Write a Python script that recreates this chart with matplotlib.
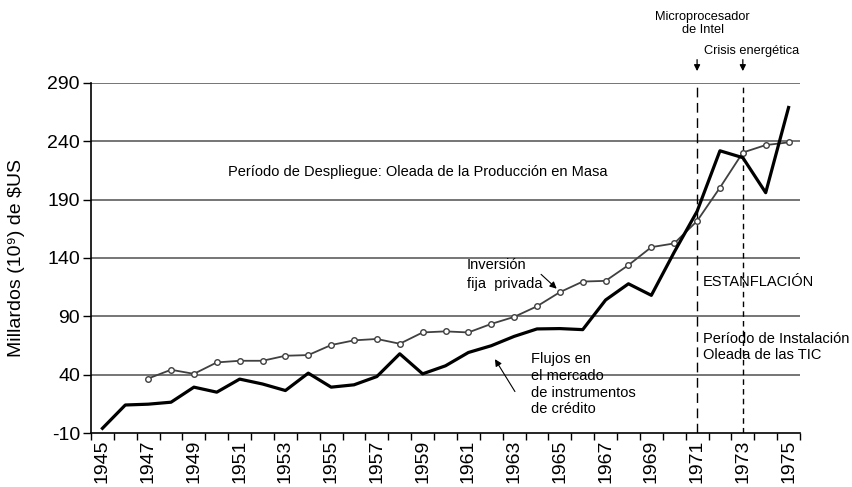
import matplotlib
matplotlib.use("Agg")
import matplotlib.pyplot as plt
import numpy as np

# datos
years = list(range(1945, 1976))
flujos = [-6, 14, 14.7, 16.4, 29.3, 25, 36.2, 32, 26.4, 41.3, 29.3, 31.3, 38.4, 57.9, 40.7,
          47.6, 59, 64.8, 72.8, 79.2, 79.5, 78.6, 104, 117.9, 108, 145, 180, 231.9, 226, 196, 269]
inv_years = list(range(1947, 1976))
inversion = [36.7, 44.2, 40.7, 50.5, 51.9, 51.9, 56.2, 56.8, 65.4, 69.4, 70.6, 66.5, 76.2,
             77.1, 76.2, 83.5, 89.5, 98.6, 110.7, 119.8, 120.4, 133.9, 149.3, 152.5, 171.7,
             200.3, 230.4, 236.8, 239.1]
yticks = [-10, 40, 90, 140, 190, 240, 290]
label_years = list(range(1945, 1976, 2))

plt.rcParams["font.family"] = ["Liberation Sans", "DejaVu Sans"]
plt.rcParams["axes.unicode_minus"] = False

fig = plt.figure(figsize=(8.53, 4.87), dpi=100)
ax = fig.add_axes([91 / 853, (487 - 433) / 487, (800 - 91) / 853, (433 - 83) / 487])

# lineas de cuadricula
for y in yticks[1:]:
    ax.axhline(y, color="#505050", lw=1.1, zorder=1)

ax.plot(inv_years, inversion, color="#404040", lw=1.3, marker="o", ms=4,
        mfc="white", mec="#404040", mew=1.0, zorder=3)
ax.plot(years, flujos, color="black", lw=2.3, zorder=4)

# lineas verticales
ax.vlines(1971, -10, 290, colors="black", lw=1.0, linestyles=(0, (7, 4)), zorder=2)
ax.vlines(1973, -10, 290, colors="black", lw=1.0, linestyles=(0, (4, 3)), zorder=2)

ax.set_xlim(1944.5, 1975.5)
ax.set_ylim(-10, 290)
ax.set_yticks(yticks)
ax.tick_params(axis="y", labelsize=14, length=6, width=1, pad=2)

ax.set_xticks(np.arange(1944.5, 1976, 1))
ax.set_xticklabels([])
ax.tick_params(axis="x", which="major", length=5, width=1)
ax.set_xticks(label_years, minor=True)
ax.set_xticklabels([str(y) for y in label_years], minor=True, rotation=90, fontsize=14)
ax.tick_params(axis="x", which="minor", length=0, pad=5)

for s in ["top", "right"]:
    ax.spines[s].set_visible(False)
for s in ["left", "bottom"]:
    ax.spines[s].set_linewidth(1.2)

ax.set_ylabel("Millardos (10⁹) de $US", fontsize=14, labelpad=16)

# textos
tk = dict(fontsize=10.5, color="black")
ax.text(1958.77, 213.6, "Período de Despliegue: Oleada de la Producción en Masa",
        ha="center", va="center", **tk)
ax.text(1960.92, 125.8, "Inversión\nfija  privada", ha="left", va="center",
        linespacing=1.5, **tk)
ax.annotate("", xy=(1964.95, 112.1), xytext=(1964.09, 127.6),
            arrowprops=dict(arrowstyle="-|>", color="black", lw=0.8, mutation_scale=10))
ax.text(1963.76, 31.7, "Flujos en\nel mercado\nde instrumentos\nde crédito", ha="left",
        va="center", linespacing=1.25, **tk)
ax.annotate("", xy=(1962.1, 55.3), xytext=(1963.1, 23.5),
            arrowprops=dict(arrowstyle="-|>", color="black", lw=0.8, mutation_scale=10))
ax.text(1971.25, 119, "ESTANFLACIÓN", ha="left", va="center", **tk)
ax.text(1971.25, 64, "Período de Instalación\nOleada de las TIC", ha="left", va="center",
        linespacing=1.2, **tk)

tk2 = dict(fontsize=9.2, color="black")
ax.text(1971.25, 341, "Microprocesador\nde Intel", ha="center", va="center",
        linespacing=1.1, **tk2)
ax.text(1973.4, 317.6, "Crisis energética", ha="center", va="center", **tk2)
for x in [1971, 1973]:
    ax.annotate("", xy=(x, 297.8), xytext=(x, 312.4), annotation_clip=False,
                arrowprops=dict(arrowstyle="-|>", color="black", lw=0.9, mutation_scale=9))

fig.savefig("out.png", dpi=100)
